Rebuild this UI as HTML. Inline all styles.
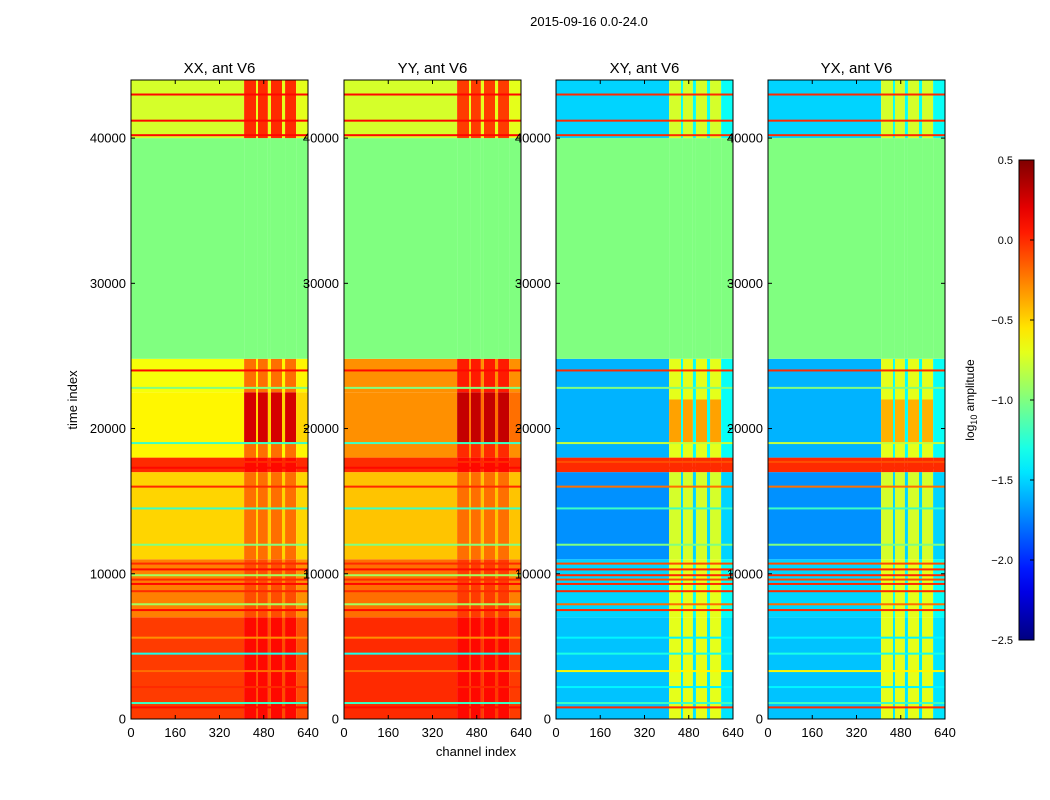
<!DOCTYPE html>
<html><head><meta charset="utf-8">
<style>
html,body{margin:0;padding:0;background:#fff;}
svg{display:block;font-family:"Liberation Sans","DejaVu Sans",sans-serif;}
</style></head>
<body>
<svg id="fig" width="1050" height="800" viewBox="0 0 1050 800"></svg>
<script>
// ---- data ----
const panelTitles = ["XX, ant V6","YY, ant V6","XY, ant V6","YX, ant V6"];
const yTicks = [0,10000,20000,30000,40000];
const xTicks = [0,160,320,480,640];
const cbTicks = [0.5,0.0,-0.5,-1.0,-1.5,-2.0,-2.5];
const cbTickLabels = ["0.5","0.0","\u22120.5","\u22121.0","\u22121.5","\u22122.0","\u22122.5"];
const hotCols = [[409,452],[459,495],[506,546],[557,597]];
const gapCols = [[452,459],[495,506],[546,557],[597,640]];
// bands: [t0, t1, baseVal, hotVal, gapVal]
const bandsXX = [[0,7000,-0.05,0.1,-0.1],[7000,11000,-0.25,-0.1,-0.3],[11000,17000,-0.5,-0.2,-0.5],[17000,18000,0.0,0.1,0.0],[18000,19000,-0.6,-0.2,-0.6],[19000,22500,-0.6,0.25,-0.5],[22500,24800,-0.65,-0.2,-0.6],[24800,40000,-1,-1,-1],[40000,44000,-0.75,0.0,-0.7]];
const bandsYY = [[0,7000,0.0,0.1,-0.05],[7000,11000,-0.2,-0.05,-0.25],[11000,17000,-0.45,-0.2,-0.45],[17000,18000,0.0,0.1,0.0],[18000,19000,-0.3,0.0,-0.3],[19000,22500,-0.3,0.3,-0.2],[22500,24800,-0.3,0.05,-0.3],[24800,40000,-1,-1,-1],[40000,44000,-0.75,-0.05,-0.7]];
const bandsXY = [[0,7000,-1.55,-0.7,-1.45],[7000,11000,-1.5,-0.7,-1.35],[11000,17000,-1.7,-0.75,-1.5],[17000,18000,0.0,0.0,0.0],[18000,19000,-1.6,-0.7,-1.35],[19000,22000,-1.6,-0.35,-1.35],[22000,24800,-1.6,-0.7,-1.35],[24800,40000,-1,-1,-1],[40000,44000,-1.5,-0.75,-1.35]];
const bandsYX = [[0,7000,-1.55,-0.7,-1.45],[7000,11000,-1.5,-0.7,-1.35],[11000,17000,-1.7,-0.75,-1.5],[17000,18000,0.0,0.0,0.0],[18000,19000,-1.6,-0.7,-1.35],[19000,22000,-1.6,-0.4,-1.35],[22000,24800,-1.6,-0.7,-1.35],[24800,40000,-1,-1,-1],[40000,44000,-1.5,-0.75,-1.35]];
const lineTimes = [800,1100,2200,3300,4500,5600,7500,7900,8800,9300,9600,9900,10300,10700,12000,14500,16000,17300,17700,19000,22800,24000,40200,41200,43000];
const lineValsXX = [0.1,-1.2,0.0,-0.2,-1.3,-0.3,0.1,-0.9,0.0,0.1,0.0,-0.9,0.1,0.0,-1.0,-1.2,0.0,0.1,0.0,-1.2,-1.0,0.1,0.1,0.1,0.1];
const lineValsYY = [0.1,-1.2,0.0,-0.2,-1.3,-0.3,0.1,-0.9,0.0,0.1,0.0,-0.9,0.1,0.0,-1.0,-1.2,0.0,0.1,0.0,-1.2,-1.0,0.1,0.1,0.1,0.1];
const lineValsXY = [0.0,-1.2,-1.4,-0.6,-1.3,-1.4,0.0,-0.2,0.0,0.0,-0.1,0.0,0.0,-0.1,-1.0,-1.2,-0.2,0.0,-0.1,-0.8,-1.0,0.0,0.0,0.0,0.0];
const lineValsYX = [0.0,-1.2,-1.4,-0.6,-1.3,-1.4,0.0,-0.2,0.0,0.0,-0.1,0.0,0.0,-0.1,-1.0,-1.2,-0.2,0.0,-0.1,-0.8,-1.0,0.0,0.0,0.0,0.0];
const allBands = [bandsXX,bandsYY,bandsXY,bandsYX];
const allLines = [lineValsXX,lineValsYY,lineValsXY,lineValsYX];

// ---- layout ----
const panelX = [131,344,556,768];
const panelW = 177, yTop = 80, yBot = 719;
const tMax = 44000, cMax = 640, vMin = -2.5, vMax = 0.5;
const NS = "http://www.w3.org/2000/svg";
const svg = document.getElementById("fig");
function mk(tag, attrs, parent){const e=document.createElementNS(NS,tag);for(const k in attrs)e.setAttribute(k,attrs[k]);(parent||svg).appendChild(e);return e;}
function yScale(t){return yBot-(t/tMax)*(yBot-yTop);}
function xScale(p,c){return panelX[p]+(c/cMax)*panelW;}
function jet(v){
  let t=(v-vMin)/(vMax-vMin);t=Math.max(0,Math.min(1,t));
  const f=x=>Math.max(0,Math.min(1,x));
  const r=f(1.5-Math.abs(4*t-3)), g=f(1.5-Math.abs(4*t-2)), b=f(1.5-Math.abs(4*t-1));
  return `rgb(${Math.round(r*255)},${Math.round(g*255)},${Math.round(b*255)})`;
}
function cbY(v){return 160+(vMax-v)/(vMax-vMin)*480;}

let st=mk("text",{x:589,y:26,"font-size":13,"text-anchor":"middle"});
st.textContent="2015-09-16 0.0-24.0";



for(let p=0;p<4;p++){
  const g=mk("g",{});
  
  
  const bands=allBands[p];
  for(const b of bands){
    const y1=yScale(b[1]), y0=yScale(b[0]);
    const r=mk("rect",{x:xScale(p,0),y:y1,width:xScale(p,hotCols[0][0])-xScale(p,0),height:y0-y1,fill:jet(b[2])},g);
    
    
    for(const c of hotCols){
      const h=mk("rect",{x:xScale(p,c[0]),y:y1,width:xScale(p,c[1])-xScale(p,c[0]),height:y0-y1,fill:jet(b[3])},g);
      
      
    }
    for(const c of gapCols){
      const h=mk("rect",{x:xScale(p,c[0]),y:y1,width:xScale(p,c[1])-xScale(p,c[0]),height:y0-y1,fill:jet(b[4])},g);
      
      
    }
  }
  const lv=allLines[p];
  for(let i=0;i<lineTimes.length;i++){
    const y=yScale(lineTimes[i]);
    const l=mk("rect",{x:xScale(p,0),y:y-1,width:panelW,height:2,fill:jet(lv[i])},g);
    
    
  }
  const fr=mk("rect",{x:panelX[p],y:yTop,width:panelW,height:yBot-yTop,fill:"none",stroke:"#000","stroke-width":1},g);
  
  
  const tt=mk("text",{x:panelX[p]+panelW/2,y:73,"font-size":15,"text-anchor":"middle"},g);
  tt.textContent=panelTitles[p];
  
  
  for(const t of yTicks){
    const y=yScale(t);
    mk("line",{x1:panelX[p],x2:panelX[p]+4,y1:y,y2:y,stroke:"#000"},g);
    mk("line",{x1:panelX[p]+panelW,x2:panelX[p]+panelW-4,y1:y,y2:y,stroke:"#000"},g);
    const lb=mk("text",{x:panelX[p]-5,y:y+4.5,"font-size":13,"text-anchor":"end"},g);
    lb.textContent=String(t);
    
    
  }
  for(const c of xTicks){
    const x=xScale(p,c);
    mk("line",{x1:x,x2:x,y1:yBot,y2:yBot-4,stroke:"#000"},g);
    mk("line",{x1:x,x2:x,y1:yTop,y2:yTop+4,stroke:"#000"},g);
    const lb=mk("text",{x:x,y:737,"font-size":13,"text-anchor":"middle"},g);
    lb.textContent=String(c);
    
    
  }
}
let yl=mk("text",{x:0,y:0,"font-size":13,"text-anchor":"middle",transform:"translate(77,400) rotate(-90)"});
yl.textContent="time index";


let xl=mk("text",{x:476,y:756,"font-size":13,"text-anchor":"middle"});
xl.textContent="channel index";



// colorbar
const cb=mk("g",{});


const defs=mk("defs",{},svg);
const grad=mk("linearGradient",{id:"jetg",x1:0,y1:1,x2:0,y2:0},defs);
for(let i=0;i<=20;i++){mk("stop",{offset:i/20,"stop-color":jet(vMin+(vMax-vMin)*i/20)},grad);}
mk("rect",{x:1019,y:160,width:15,height:480,fill:"url(#jetg)",stroke:"#000"},cb);
for(let i=0;i<cbTicks.length;i++){
  const y=cbY(cbTicks[i]);
  mk("line",{x1:1030,x2:1034,y1:y,y2:y,stroke:"#000"},cb);
  const lb=mk("text",{x:1013,y:y+4,"font-size":11,"text-anchor":"end"},cb);
  lb.textContent=cbTickLabels[i];
  
  
}
let cl=mk("text",{x:0,y:0,"font-size":12,"text-anchor":"middle",transform:"translate(974,400) rotate(-90)"});
cl.innerHTML='log<tspan font-size="9" dy="3">10</tspan><tspan dy="-3"> amplitude</tspan>';


</script>
</body></html>
